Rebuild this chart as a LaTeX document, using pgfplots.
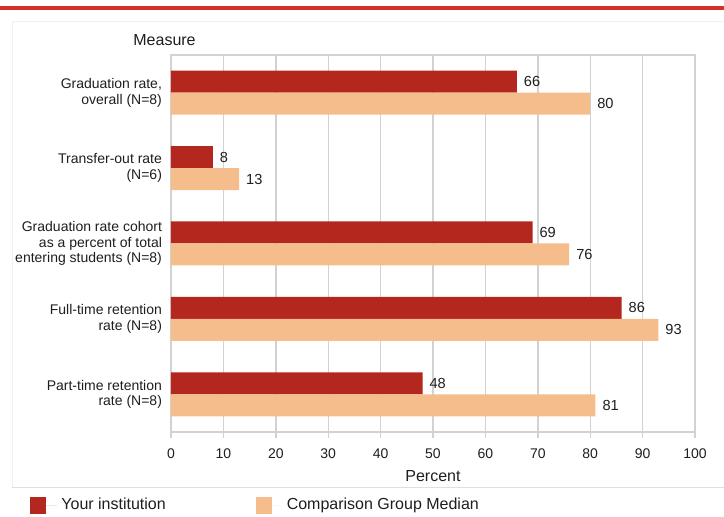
\documentclass[border=0pt]{standalone}
\usepackage{fontspec}
\setmainfont{Liberation Sans}
\usepackage{pgfplots}
\pgfplotsset{compat=1.18}

\definecolor{topred}{HTML}{D2302A}
\definecolor{instred}{HTML}{B3271F}
\definecolor{peach}{HTML}{F5BD8C}
\definecolor{gridgray}{HTML}{D2D2D2}
\definecolor{txt}{HTML}{1E1E1E}

% 1 px of the reference = 0.5pt
\newcommand{\lblfont}{\fontsize{7}{7.8}\selectfont}
\newcommand{\valfont}{\fontsize{7.3}{8}\selectfont}
\newcommand{\bigfont}{\fontsize{8}{9}\selectfont}

\begin{document}
\begin{tikzpicture}
  \useasboundingbox (0,0) rectangle (362pt,258.5pt);
  % decoration: top rule, panel, separator
  \fill[topred] (0,253.5pt) rectangle (362pt,255.5pt);
  \draw[gray!12] (6pt,15pt) -- (6pt,248pt) -- (362pt,248pt);
  \draw[gray!25] (6pt,15pt) -- (362pt,15pt);
  \node[anchor=west, inner sep=0pt, text=txt, font=\bigfont] at (66.5pt,238.5pt) {Measure};

  \begin{axis}[
      at={(85.5pt,42.5pt)}, anchor=south west,
      scale only axis, width=262pt, height=188.5pt,
      xbar, bar width=11pt,
      xmin=0, xmax=100, ymin=-0.5, ymax=4.5, y dir=reverse,
      xtick={0,10,...,100}, ytick={0,1,2,3,4},
      yticklabels={
        {Graduation rate,\\overall (N=8)},
        {Transfer-out rate\\(N=6)},
        {Graduation rate cohort\\as a percent of total\\entering students (N=8)},
        {Full-time retention\\rate (N=8)},
        {Part-time retention\\rate (N=8)}},
      yticklabel style={align=right, font=\lblfont, text=txt, xshift=2pt},
      xticklabel style={font=\lblfont, text=txt, yshift=-2pt},
      /pgf/number format/assume math mode=true,
      xmajorgrids, grid style={gridgray, line width=0.7pt},
      axis line style={gridgray, line width=0.7pt},
      xtick align=outside, major tick length=3pt,
      xtick style={gridgray, line width=0.7pt},
      ytick style={draw=none},
      xtick pos=bottom,
      xlabel={Percent}, xlabel style={font=\bigfont, text=txt, yshift=1pt},
      nodes near coords,
      every node near coord/.append style={font=\valfont, text=txt, anchor=west},
      legend columns=2,
      legend style={at={(rel axis cs:0,0)}, anchor=west, xshift=-70.5pt, yshift=-36.75pt,
        draw=none, fill=none, font=\bigfont, text=txt, inner sep=0pt,
        /tikz/every even column/.append style={column sep=43pt}},
      legend cell align=left,
      legend image code/.code={\fill (0pt,-4.2pt) rectangle (8pt,4.2pt); \path[draw=none] (0pt,0pt) -- (13.5pt,0pt);},
    ]
    \addplot[fill=instred, draw=none, bar shift=5.5pt] coordinates {(66,0) (8,1) (69,2) (86,3) (48,4)};
    \addplot[fill=peach, draw=none, bar shift=-5.5pt] coordinates {(80,0) (13,1) (76,2) (93,3) (81,4)};
    \legend{Your institution, Comparison Group Median}
  \end{axis}
\end{tikzpicture}
\end{document}
